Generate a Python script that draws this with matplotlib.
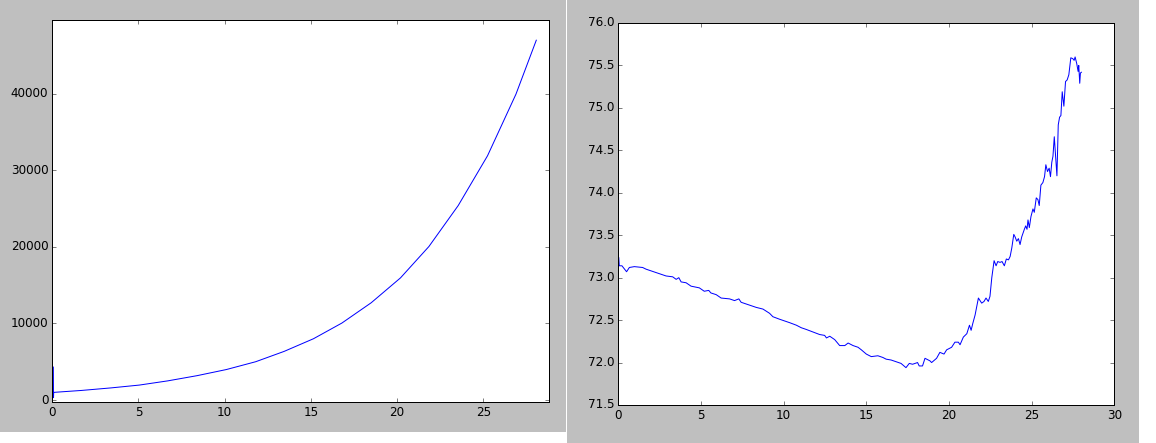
#!/usr/bin/env python3
"""two side by side line plots, classic look"""

import matplotlib

matplotlib.use("Agg")
import matplotlib.pyplot as plt
from matplotlib.patches import Rectangle
from matplotlib.ticker import FormatStrFormatter

#
# DATA
#
# left panel: growth curve (with spike at start)
left_x = [0.06, 0.07, 0.08, 0.1, 1.7, 3.4, 5.05, 6.7, 8.4, 10.1, 11.8, 13.45,
          15.15, 16.8, 18.5, 20.2, 21.85, 23.55, 25.25, 26.9, 28.08]
left_y = [4300, 300, 980, 1000, 1250, 1580, 1950, 2500, 3180, 3980, 5000, 6350,
          8000, 10050, 12700, 15950, 20050, 25400, 31900, 39950, 47000]

# right panel: noisy series
right_x = [0.03, 0.06, 0.22, 0.5, 0.67, 0.97, 1.47, 1.68, 2.28, 2.89, 3.29, 3.5,
           3.66, 3.8, 4.1, 4.4, 4.9, 5.2, 5.47, 5.6, 5.92, 6.22, 6.73, 7.03,
           7.29, 7.43, 7.74, 8.34, 8.75, 9.15, 9.35, 9.76, 10.36, 10.77, 11.07,
           11.37, 11.78, 12.18, 12.48, 12.59, 12.79, 13.09, 13.39, 13.7, 13.9,
           14.2, 14.5, 14.7, 15.0, 15.3, 15.7, 16.0, 16.2, 16.5, 16.8, 17.1,
           17.4, 17.6, 17.8, 18.1, 18.2, 18.4, 18.55, 18.85, 18.95, 19.25,
           19.45, 19.7, 19.86, 20.16, 20.36, 20.57, 20.67, 20.87, 21.08, 21.24,
           21.34, 21.44, 21.58, 21.78, 21.98, 22.12, 22.24, 22.38, 22.48, 22.59,
           22.73, 22.85, 22.95, 23.09, 23.21, 23.35, 23.47, 23.6, 23.7, 23.8,
           23.92, 24.0, 24.1, 24.2, 24.3, 24.4, 24.56, 24.64, 24.72, 24.78,
           24.86, 24.96, 25.08, 25.16, 25.28, 25.38, 25.46, 25.56, 25.68, 25.78,
           25.86, 25.96, 26.06, 26.14, 26.22, 26.29, 26.37, 26.45, 26.53, 26.61,
           26.69, 26.77, 26.85, 26.95, 27.05, 27.15, 27.25, 27.37, 27.49, 27.57,
           27.63, 27.73, 27.81, 27.85, 27.91, 27.95, 28.01]
right_y = [73.235, 73.14, 73.14, 73.07, 73.12, 73.13, 73.12, 73.10, 73.06,
           73.02, 73.01, 72.98, 73.0, 72.95, 72.94, 72.90, 72.88, 72.84, 72.85,
           72.82, 72.80, 72.76, 72.75, 72.73, 72.75, 72.71, 72.69, 72.65, 72.63,
           72.58, 72.54, 72.51, 72.47, 72.44, 72.41, 72.39, 72.36, 72.33, 72.32,
           72.29, 72.31, 72.27, 72.20, 72.20, 72.23, 72.20, 72.18, 72.15, 72.10,
           72.07, 72.08, 72.06, 72.04, 72.03, 72.01, 71.99, 71.94, 71.99, 71.98,
           72.00, 71.96, 71.96, 72.05, 72.02, 72.0, 72.05, 72.12, 72.10, 72.15,
           72.18, 72.24, 72.24, 72.21, 72.30, 72.34, 72.44, 72.38, 72.46, 72.56,
           72.76, 72.70, 72.72, 72.76, 72.72, 72.78, 73.0, 73.20, 73.14, 73.19,
           73.18, 73.19, 73.14, 73.22, 73.21, 73.25, 73.35, 73.51, 73.48, 73.43,
           73.46, 73.39, 73.48, 73.57, 73.61, 73.57, 73.68, 73.59, 73.72, 73.81,
           73.77, 73.94, 73.92, 73.85, 74.09, 74.12, 74.19, 74.33, 74.25, 74.29,
           74.19, 74.36, 74.43, 74.66, 74.43, 74.20, 74.80, 74.89, 74.91, 75.19,
           75.02, 75.31, 75.33, 75.39, 75.59, 75.58, 75.56, 75.60, 75.52, 75.43,
           75.50, 75.29, 75.41, 75.42]

left_xticks = [0, 5, 10, 15, 20, 25]
left_yticks = [0, 10000, 20000, 30000, 40000]
right_xticks = [0, 5, 10, 15, 20, 25, 30]
right_yticks = [71.5, 72.0, 72.5, 73.0, 73.5, 74.0, 74.5, 75.0, 75.5, 76.0]

#
# FIGURE
#
plt.style.use("classic")
W, H = 1156, 443
fig = plt.figure(figsize=(W / 72, H / 72), dpi=72, facecolor="white")

# gray panel backgrounds (two separate figures side by side)
fig.patches.append(Rectangle((0, 11.3 / H), 565.7 / W, 1 - 11.3 / H,
                             transform=fig.transFigure, facecolor="0.75", edgecolor="none", zorder=-10))
fig.patches.append(Rectangle((567 / W, 0), 571.7 / W, 1,
                             transform=fig.transFigure, facecolor="0.75", edgecolor="none", zorder=-10))

# left panel
ax1 = fig.add_axes([52.3 / W, (H - 402.3) / H, 496.4 / W, 382 / H])
ax1.plot(left_x, left_y, color="b", linewidth=1.0)
ax1.set_xlim(0, 28.8)
ax1.set_ylim(-300, 49600)
ax1.set_xticks(left_xticks)
ax1.set_yticks(left_yticks)
ax1.ticklabel_format(useOffset=False, style="plain")

# right panel
ax2 = fig.add_axes([618.3 / W, (H - 405) / H, 496 / W, 382 / H])
ax2.plot(right_x, right_y, color="b", linewidth=1.0)
ax2.set_xlim(0, 30)
ax2.set_ylim(71.5, 76.0)
ax2.set_xticks(right_xticks)
ax2.set_yticks(right_yticks)
ax2.yaxis.set_major_formatter(FormatStrFormatter("%.1f"))

for ax in (ax1, ax2):
    ax.tick_params(labelsize=12)

fig.savefig("out.png", dpi=72, facecolor="white")
